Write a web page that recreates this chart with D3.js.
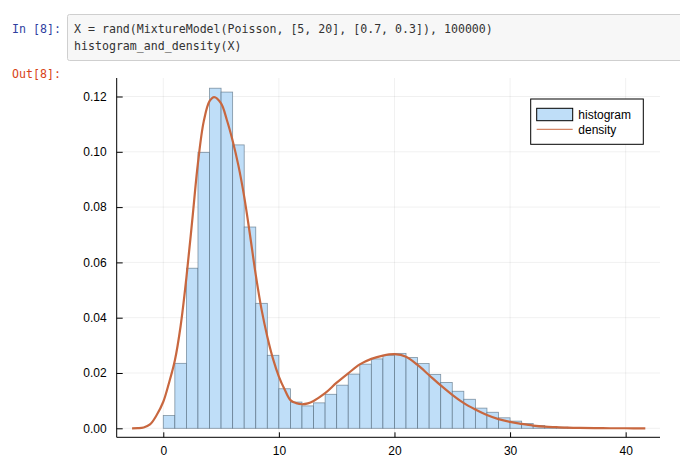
<!DOCTYPE html>
<html>
<head>
<meta charset="utf-8">
<script src="https://cdn.jsdelivr.net/npm/d3@7"></script>
<style>
  html, body { margin: 0; padding: 0; background: #fff; }
  svg { display: block; }
</style>
</head>
<body>
<svg id="chart" width="680" height="467"></svg>
<script>
// ---- data ----
const codeLines = [
  "X = rand(MixtureModel(Poisson, [5, 20], [0.7, 0.3]), 100000)",
  "histogram_and_density(X)"
];
const inPrompt = "In [8]:";
const outPrompt = "Out[8]:";

// histogram: bins of width 1 starting at 0
const binStarts = d3.range(0, 37);
const binHeights = [0.0046,0.0235,0.0579,0.0998,0.1230,0.1216,0.1025,0.0728,0.0452,0.0264,
  0.0143,0.0095,0.0081,0.0092,0.0123,0.0156,0.0196,0.0232,0.0251,0.0264,
  0.0271,0.0256,0.0234,0.0195,0.0166,0.0134,0.0105,0.0073,0.0058,0.0038,
  0.0026,0.0017,0.0010,0.0006,0.0004,0.0002,0.0001];

// density curve
const densityX = [-2.7,-2.2,-1.7,-1.15,-0.57,0,0.5,1,1.5,2,2.5,3,3.5,4,4.4,5,5.5,6,6.5,7,7.5,8,8.5,9,9.5,10,10.5,11,11.5,12,12.5,13,14,15,16,17,18,19,20,21,22,23,24,25,26,27,28,29,30,31,32,33,34,35,36,38,40,41.7];
const densityY = [0,0.00005,0.0003,0.0014,0.0048,0.0096,0.0165,0.0245,0.037,0.0545,0.075,0.096,0.111,0.1183,0.1198,0.1175,0.1115,0.104,0.095,0.0838,0.070,0.0555,0.043,0.0331,0.025,0.0187,0.0140,0.0102,0.0091,0.0087,0.0090,0.0099,0.0127,0.0165,0.0199,0.0231,0.0251,0.0263,0.0268,0.0259,0.0229,0.0192,0.0155,0.0121,0.0091,0.0068,0.0048,0.0033,0.0023,0.0016,0.0010,0.0006,0.0004,0.00022,0.00012,0.00004,0.00001,0];

const xTicks = [0, 10, 20, 30, 40];
const yTicks = [0, 0.02, 0.04, 0.06, 0.08, 0.10, 0.12];
const legendLabels = ["histogram", "density"];

// ---- drawing ----
const svg = d3.select("#chart");
const mono = "'DejaVu Sans Mono', 'Liberation Mono', monospace";
const sans = "'Liberation Sans', Arial, sans-serif";

// notebook cell
svg.append("rect").attr("x", 67.5).attr("y", 14.5).attr("width", 640).attr("height", 46)
  .attr("fill", "#f7f7f7").attr("stroke", "#cfcfcf").attr("rx", 2);
svg.append("text").attr("x", 12).attr("y", 33).text(inPrompt)
  .attr("font-family", mono).attr("font-size", 11.6).attr("fill", "#303F9F");
svg.selectAll("text.code").data(codeLines).join("text").attr("class", "code")
  .attr("x", 74).attr("y", (d, i) => 33 + i * 17).text(d => d)
  .attr("font-family", mono).attr("font-size", 11.6).attr("fill", "#333")
  .style("white-space", "pre");
svg.append("text").attr("x", 12).attr("y", 78).text(outPrompt)
  .attr("font-family", mono).attr("font-size", 11.6).attr("fill", "#D84315");

// plot area
const L = 116.7, R = 660, T = 78, B = 437.3;
const x = d3.scaleLinear().domain([-4.03, 42.97]).range([L, R]);
const y = d3.scaleLinear().domain([0, 0.12]).range([428.3, 96.5]);

const g = svg.append("g");

// grid
g.selectAll("line.vg").data(xTicks).join("line").attr("class", "vg")
  .attr("x1", d => x(d)).attr("x2", d => x(d)).attr("y1", T).attr("y2", B)
  .attr("stroke", "#000").attr("stroke-opacity", 0.1).attr("stroke-width", 0.6);
g.selectAll("line.hg").data(yTicks).join("line").attr("class", "hg")
  .attr("x1", L).attr("x2", R).attr("y1", d => y(d)).attr("y2", d => y(d))
  .attr("stroke", "#000").attr("stroke-opacity", 0.1).attr("stroke-width", 0.6);

// bars
g.selectAll("rect.bar").data(binStarts.map((s, i) => ({s, h: binHeights[i]}))).join("rect")
  .attr("class", "bar")
  .attr("x", d => x(d.s)).attr("width", d => x(d.s + 1) - x(d.s))
  .attr("y", d => y(d.h)).attr("height", d => y(0) - y(d.h))
  .attr("fill", "#bfdef8").attr("stroke", "#3d5568").attr("stroke-opacity", 0.6)
  .attr("stroke-width", 0.8);

// density
const line = d3.line().x(d => x(d[0])).y(d => y(d[1])).curve(d3.curveCatmullRom.alpha(0.5));
g.append("path").datum(densityX.map((v, i) => [v, densityY[i]]))
  .attr("d", line).attr("fill", "none").attr("stroke", "#c8673f").attr("stroke-width", 2.2);

// axes
const xAxis = d3.axisBottom(x).tickValues(xTicks).tickSizeInner(-5).tickSizeOuter(0).tickPadding(9)
  .tickFormat(d3.format("d"));
const xa = svg.append("g").attr("transform", `translate(0,${B})`).call(xAxis);
xa.select(".domain").attr("d", `M${L},0H${R}`).attr("stroke", "#000");
xa.selectAll("text").attr("font-family", sans).attr("font-size", 12).attr("fill", "#000");

const yAxis = d3.axisLeft(y).tickValues(yTicks).tickSizeInner(-6).tickSizeOuter(0).tickPadding(10)
  .tickFormat(d3.format(".2f"));
const ya = svg.append("g").attr("transform", `translate(${L},0)`).call(yAxis);
ya.select(".domain").attr("d", `M0,${T}V${B}`).attr("stroke", "#000");
ya.selectAll("text").attr("font-family", sans).attr("font-size", 12).attr("fill", "#000");

// legend
const lg = svg.append("g");
lg.append("rect").attr("x", 530.7).attr("y", 99).attr("width", 112.6).attr("height", 45.3)
  .attr("fill", "#fff").attr("stroke", "#000").attr("stroke-width", 1);
lg.append("rect").attr("x", 536.7).attr("y", 108.3).attr("width", 36).attr("height", 12.4)
  .attr("fill", "#bfdef8").attr("stroke", "#000").attr("stroke-width", 1);
lg.append("line").attr("x1", 536.7).attr("x2", 572.7).attr("y1", 129.3).attr("y2", 129.3)
  .attr("stroke", "#c8673f").attr("stroke-width", 1);
lg.selectAll("text").data(legendLabels).join("text")
  .attr("x", 578.3).attr("y", (d, i) => 118.5 + i * 15).text(d => d)
  .attr("font-family", sans).attr("font-size", 12).attr("fill", "#000");
</script>
</body>
</html>
